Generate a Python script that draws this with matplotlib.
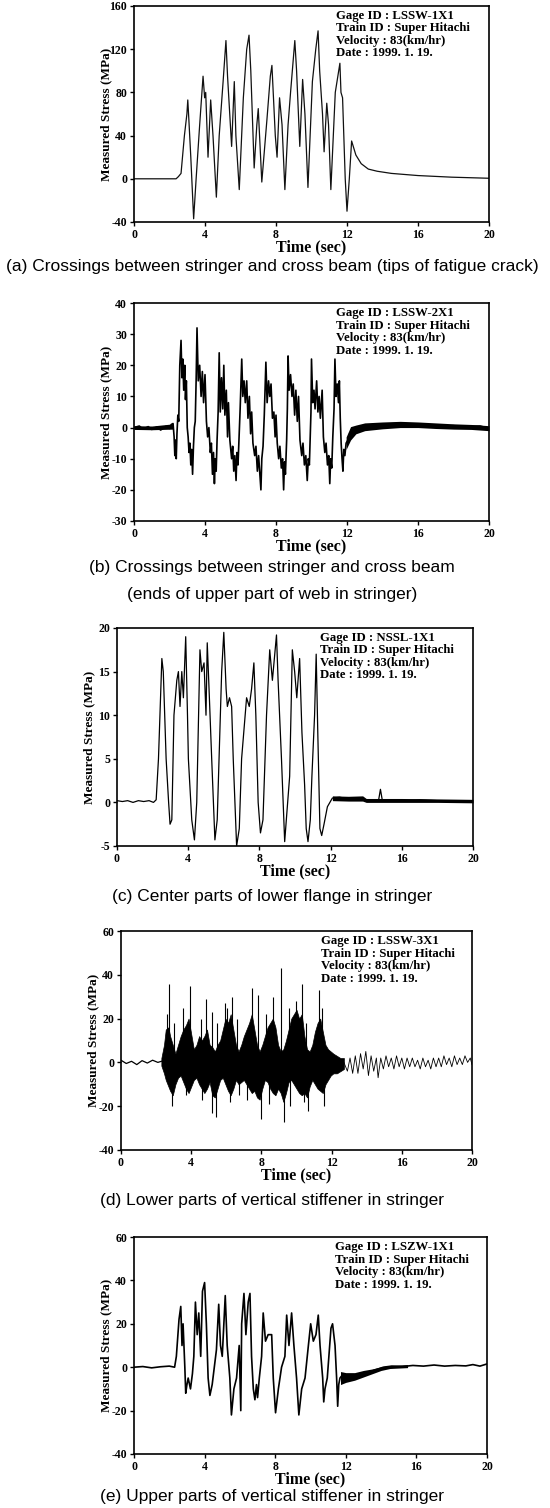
import numpy as np
import matplotlib
matplotlib.use("Agg")
import matplotlib.pyplot as plt

plt.rcParams['font.family'] = ['Liberation Serif', 'DejaVu Serif']
plt.rcParams['font.weight'] = 'bold'
plt.rcParams['axes.unicode_minus'] = False

# ---------------- data ----------------
time_ticks = [0, 4, 8, 12, 16, 20]

# (a) LSSW-1X1
a_time = [0, 1.0, 2.0, 2.37, 2.5, 2.65, 2.84, 2.98, 3.03, 3.09, 3.2, 3.36, 3.5, 3.7, 3.89, 3.98, 4.04,
          4.17, 4.32, 4.45, 4.64, 4.8, 5.02, 5.18, 5.27, 5.5, 5.65, 5.74, 5.93, 6.16, 6.35, 6.48,
          6.58, 6.77, 6.92, 7.0, 7.2, 7.49, 7.68, 7.77, 7.96, 8.06, 8.2, 8.34, 8.5, 8.68, 8.82,
          9.06, 9.16, 9.34, 9.5, 9.63, 9.8, 10.05, 10.24, 10.37, 10.46, 10.62, 10.71, 10.86,
          10.96, 11.09, 11.34, 11.6, 11.66, 11.75, 11.9, 12.0, 12.13, 12.26, 12.5, 12.8, 13.2,
          13.7, 14.5, 16.0, 17.9, 20.0]
a_stress = [0, 0, 0, 0, 2, 5, 40, 60, 73, 55, 20, -37, 0, 50, 95, 75, 80,
            20, 73, 40, -17, 40, 90, 128, 95, 30, 90, 40, -10, 75, 120, 133,
            100, 10, 50, 65, -3, 55, 95, 105, 40, 20, 75, 50, -10, 50, 80,
            128, 100, 30, 92, 60, -8, 90, 120, 137, 100, 60, 25, 70,
            50, -10, 80, 107, 80, 75, 0, -30, 0, 35, 22, 14, 9,
            7, 5, 3, 1.5, 0.5]

# (b) LSSW-2X1
b_time = [0, 0.3, 0.5, 0.8, 1.0, 1.3, 1.5, 1.8, 2.0, 2.1, 2.2, 2.26, 2.3, 2.34, 2.38, 2.42, 2.47,
          2.52, 2.58, 2.65, 2.7, 2.75, 2.8, 2.86, 2.9, 2.95, 3.0, 3.05, 3.1, 3.15, 3.2, 3.25, 3.3,
          3.35, 3.4, 3.45, 3.5,
          3.55, 3.62, 3.7, 3.78, 3.85, 3.92, 4.0, 4.08, 4.15, 4.22, 4.3, 4.36, 4.42, 4.48, 4.53,
          4.58, 4.63, 4.68, 4.74,
          4.8, 4.86, 4.93, 5.0, 5.06, 5.12, 5.2, 5.27, 5.32, 5.4, 5.5, 5.56, 5.62, 5.68, 5.75,
          5.8, 5.86, 5.92, 5.98,
          6.07, 6.13, 6.2, 6.27, 6.35, 6.42, 6.5, 6.57, 6.63, 6.7, 6.8, 6.87, 6.95, 7.02, 7.1,
          7.15, 7.2, 7.27, 7.34,
          7.43, 7.5, 7.58, 7.65, 7.72, 7.8, 7.88, 7.95, 8.0, 8.07, 8.15, 8.22, 8.3, 8.37, 8.43,
          8.48, 8.53, 8.6, 8.64,
          8.68, 8.74, 8.82, 8.9, 8.97, 9.05, 9.12, 9.2, 9.27, 9.35, 9.45, 9.52, 9.6, 9.68, 9.76,
          9.82, 9.88, 9.93, 9.97,
          10.0, 10.07, 10.14, 10.2, 10.29, 10.36, 10.43, 10.5, 10.6, 10.67, 10.75, 10.82, 10.9,
          10.97, 11.03, 11.08, 11.14, 11.2, 11.27,
          11.32, 11.38, 11.45, 11.52, 11.57, 11.62, 11.67, 11.72, 11.77, 11.82, 11.88, 11.95,
          12.05, 12.15, 12.3, 12.5, 12.8, 13.0, 13.5, 14.0, 14.5, 15.0, 15.5, 16.0, 16.5, 17.0,
          17.5, 18.0, 18.5, 19.0, 19.5, 20.0]
b_stress = [0, 0.5, -0.5, 0.3, -0.6, 0.2, -0.8, 0.4, -0.3, 1, 1.3, -3, -9, -4, -10, -2, 4,
            2, 20, 28, 16, 22, 12, 20, 9, 15, 0, -3, -8, -5, -12, -7, -15,
            -6, 0, 2, 15,
            32, 15, 20, 10, 18, 8, 17, 2, -3, 0, -8, -5, -15, -8, -18,
            -10, -14, -4, 5,
            24, 5, 16, 6, 20, 4, 12, -3, 8, -4, -10, -6, -14, -9, -17,
            -8, -12, -3, 6,
            22, 10, 15, 8, 15, 3, 10, -2, 5, -5, -9, -6, -14, -9, -16,
            -20, -10, -6, 4,
            21, 8, 15, 10, 14, 3, 5, -3, 4, -5, -10, -6, -13, -10, -20,
            -11, -15, -4, 6,
            23, 12, 17, 10, 14, 4, 12, 2, 10, -4, -9, -5, -12, -9, -17,
            -10, -12, -3, 5,
            22, 8, 12, 6, 15, 5, 10, 3, 12, -3, -8, -5, -12,
            -9, -18, -10, -13, -3, 6,
            22, 10, 14, 8, 15, 3, -5, -10, -14, -7, -9, -5,
            -4, -2, -1, -0.5, 0, 0.5, 1, 0.8, 1.2, 1.3, 1, 1.2, 0.8, 0.7,
            0.5, 0.6, 0.3, 0.4, 0.5, -0.3]
b_head_time = [0, 1.0, 2.2]
b_head_hi = [0.6, 0.5, 1.2]
b_head_lo = [-0.6, -0.7, -0.5]
b_tail_time = [11.95, 12.2, 12.5, 13, 14, 15, 16, 17, 18, 19, 20]
b_tail_hi = [-3.0, 0.3, 0.8, 1.5, 1.8, 2.0, 1.8, 1.5, 1.2, 1.0, 0.6]
b_tail_lo = [-7.0, -4.0, -2.0, -1.0, -0.4, 0.0, 0.0, -0.3, -0.5, -0.6, -1.0]

# (c) NSSL-1X1
c_time = [0, 0.3, 0.6, 0.9, 1.2, 1.5, 1.8, 2.05, 2.2, 2.33, 2.52, 2.6, 2.76, 2.9, 2.98, 3.08, 3.2,
          3.36, 3.45, 3.54, 3.64, 3.73, 3.86, 3.96, 4.01, 4.2, 4.35, 4.48, 4.66, 4.76, 4.89,
          5.0, 5.07, 5.19, 5.32, 5.5, 5.63, 5.88, 6.0, 6.13, 6.2, 6.32, 6.44, 6.53, 6.72, 6.87,
          7.0, 7.28, 7.43, 7.56, 7.69, 7.8, 7.93, 8.06, 8.2, 8.4, 8.58, 8.73, 8.96, 9.05, 9.24,
          9.42, 9.55, 9.7, 9.85, 9.98, 10.1, 10.26, 10.39, 10.54, 10.63, 10.73, 10.86, 10.95,
          11.1, 11.19, 11.28, 11.4, 11.5, 11.63, 11.82, 12.1, 12.5, 13.0, 14.0, 14.7, 14.8,
          14.9, 16.0, 17.0, 18.0, 19.0, 20.0]
c_stress = [0.2, 0.1, 0.2, 0.0, 0.2, 0.1, 0.2, 0.0, 0.3, 5, 16.5, 15, 5, 0, -2.5, -2, 10,
            14, 15, 11, 15, 12, 19, 10, 5, -2, -4.3, 0, 17.5, 15, 16,
            10, 18.3, 12, 5, -4.3, -2, 15, 19.5, 13, 11, 12, 11, 5, -5, -3,
            5, 12, 11, 13, 16, 10, 0, -3.5, -2, 10, 17.5, 14, 19.2, 14, 5,
            -4.5, -1, 3, 17.5, 15, 12, 16.5, 8, 2, -3, -4.5, -2, 3,
            10, 17, 8, -3, -3.8, -2.5, -0.5, 0.5, 0.6, 0.4, 0.3, 0.3, 1.5,
            0.3, 0.2, 0.3, 0.2, 0.2, 0.1]
c_tail_time = [12.1, 13.0, 13.8, 14.0, 16.0, 18.0, 20.0]
c_tail_hi = [0.75, 0.7, 0.75, 0.45, 0.45, 0.4, 0.35]
c_tail_lo = [0.2, 0.15, 0.15, 0.0, 0.0, 0.0, -0.05]

# (d) LSSW-3X1 : dense burst envelope, spikes and quiet parts
d_env_time = [2.3, 2.45, 2.55, 2.7, 2.8, 2.95, 3.1, 3.25, 3.4, 3.55, 3.7, 3.85, 4.0, 4.15, 4.3,
              4.45, 4.6, 4.75, 4.9, 5.05, 5.2, 5.35, 5.5, 5.65, 5.8, 5.95, 6.1, 6.25, 6.4, 6.55,
              6.7, 6.85, 7.0, 7.15, 7.3, 7.45, 7.6, 7.75, 7.9, 8.05, 8.2, 8.35, 8.5, 8.65, 8.8,
              8.95, 9.1, 9.25, 9.4, 9.55, 9.7, 9.85, 10.0, 10.15, 10.3, 10.45, 10.6, 10.75, 10.9,
              11.05, 11.2, 11.35, 11.5, 11.65, 11.8, 11.95, 12.1, 12.3, 12.5, 12.7]
d_env_hi = [2, 8, 15, 16, 12, 8, 4, 8, 12, 15, 17, 20, 13, 6, 8,
            12, 10, 12, 15, 8, 7, 5, 8, 10, 15, 20, 18, 22, 15, 8,
            5, 8, 12, 15, 18, 22, 15, 8, 5, 8, 12, 16, 18, 20, 16,
            8, 5, 6, 10, 15, 20, 22, 24, 20, 22, 12, 6, 5, 8,
            14, 18, 20, 14, 8, 6, 5, 4, 3, 2, 2]
d_env_lo = [-1.5, -5, -8, -11, -13, -15, -10, -7, -6, -9, -12, -14, -11, -8, -7,
            -10, -12, -14, -12, -9, -15, -16, -12, -8, -7, -10, -13, -15, -12, -8,
            -10, -9, -8, -10, -12, -14, -13, -16, -17, -12, -8, -9, -12, -14, -15,
            -12, -14, -18, -14, -9, -8, -10, -12, -14, -15, -14, -16, -11, -8,
            -10, -12, -13, -14, -10, -8, -6, -5, -5, -4, -3]
d_spike_time = [2.6, 2.75, 3.0, 3.55, 3.95, 4.55, 4.85, 5.2, 5.45, 5.9, 6.05, 6.35, 6.6, 7.45,
                7.8, 8.25, 8.65, 9.1, 9.55, 9.95, 10.3, 10.55, 11.3, 11.45]
d_spike_top = [22, 36, 18, 25, 35, 20, 29, 23, 18, 27, 25, 30, 20, 34,
               31, 22, 30, 43, 25, 28, 36, 18, 33, 25]
d_dip_time = [2.9, 3.7, 4.6, 5.2, 5.4, 6.2, 6.7, 7.2, 7.95, 8.45, 9.3, 9.65, 10.45, 10.65, 11.55]
d_dip_bottom = [-20, -15, -17, -23, -25, -18, -15, -17, -26, -19, -27, -20, -18, -22, -20]
d_head_time = [0, 0.3, 0.6, 0.9, 1.2, 1.5, 1.8, 2.1, 2.3]
d_head_stress = [1, -0.5, 0.5, -1, 0.8, -0.3, 1, 0, 0.5]
d_tail_time = [12.7, 12.9, 13.05, 13.2, 13.35, 13.5, 13.65, 13.8, 13.95, 14.1, 14.25, 14.4,
               14.55, 14.65, 14.8, 14.95, 15.1, 15.25, 15.4, 15.55, 15.7, 15.85, 16.0, 16.15,
               16.3, 16.45, 16.6, 16.75, 16.9, 17.05, 17.2, 17.35, 17.5, 17.65, 17.8, 17.95,
               18.1, 18.25, 18.4, 18.55, 18.7, 18.85, 19.0, 19.15, 19.3, 19.45, 19.6, 19.75,
               19.9, 20.0]
d_tail_stress = [0, -4, 2, -5, 3, -5, 4, -3, 5, -6, 3, -4,
                 2, -7, 2, -3, 3, -2, 2, -3, 3, -2, 2, -3,
                 2, -2, 2, -2, 1, -3, 2, -2, 1, -3, 2, -2,
                 2, -2, 3, -1, 2, -2, 3, -1, 2, -1, 3, 0,
                 2, -1]

# (e) LSZW-1X1
e_time = [0, 0.5, 1.0, 1.5, 2.0, 2.3, 2.4, 2.55, 2.65, 2.72, 2.78, 2.88, 2.93, 3.0, 3.07, 3.2,
          3.31, 3.39, 3.48, 3.58, 3.67, 3.78, 3.88, 4.0, 4.1, 4.2, 4.3, 4.43, 4.52, 4.67, 4.8,
          4.9, 5.0, 5.17, 5.28, 5.43, 5.52, 5.66, 5.81, 5.96, 6.05, 6.1, 6.23, 6.34, 6.47, 6.57,
          6.66, 6.76, 6.85, 6.94, 7.0, 7.1, 7.23, 7.32, 7.45, 7.6, 7.8, 7.89, 8.02, 8.18, 8.36,
          8.55, 8.65, 8.78, 8.93, 9.06, 9.21, 9.34, 9.5, 9.69, 9.88, 10.01, 10.16, 10.31, 10.44,
          10.54, 10.69, 10.75, 10.82, 10.95, 11.16, 11.25, 11.39, 11.48, 11.54, 11.6, 11.67,
          11.86, 12.05, 12.24, 12.62, 13.0, 13.38, 13.76, 14.13, 14.6, 15.2, 15.8, 16.4, 17.0,
          17.6, 18.2, 18.8, 19.2, 19.6, 20.0]
e_stress = [0, 0.3, -0.3, 0.2, 0.5, 0, 5, 22, 28, 10, 20, 0, -12, -8, -5, -10,
            -3, 5, 30, 15, 25, 5, 35, 39, 20, -5, -13, -8, -2, 8, 29,
            10, 5, 33, 10, -5, -22, -10, -5, 10, -20, 20, 34, 15, 30, 34,
            5, -10, -15, -8, -14, -5, 5, 25, 12, 15, 15, -5, -21, -10, 0,
            5, 24, 10, 25, 10, -5, -22, -10, -5, 10, 20, 12, 15, 24,
            10, -5, -16, -10, -5, 18, 20, 10, -5, -18, -8, -5,
            -3, -6, -5, -4, -3, -2, -1, 0, 0.5, 0.3, 0.8, 0.5, 1.0,
            0.5, 0.8, 0.6, 1.2, 0.5, 1.5]
e_tail_time = [11.7, 12.0, 12.5, 13.0, 13.5, 14.0, 14.5, 15.5]
e_tail_hi = [-2.0, -2.5, -2.5, -1.5, -0.8, 0.2, 0.8, 1.2]
e_tail_lo = [-8.0, -7.0, -6.0, -4.5, -3.0, -1.5, -0.6, -0.2]

gage_ids = ['LSSW-1X1', 'LSSW-2X1', 'NSSL-1X1', 'LSSW-3X1', 'LSZW-1X1']
y_limits = [(-40, 160), (-30, 40), (-5, 20), (-40, 60), (-40, 60)]
y_ticks = [[-40, 0, 40, 80, 120, 160],
           [-30, -20, -10, 0, 10, 20, 30, 40],
           [-5, 0, 5, 10, 15, 20],
           [-40, -20, 0, 20, 40, 60],
           [-40, -20, 0, 20, 40, 60]]
captions = [["(a) Crossings between stringer and cross beam (tips of fatigue crack)"],
            ["(b) Crossings between stringer and cross beam",
             "(ends of upper part of web in stringer)"],
            ["(c) Center parts of lower flange in stringer"],
            ["(d) Lower parts of vertical stiffener in stringer"],
            ["(e) Upper parts of vertical stiffener in stringer"]]

# ---------------- layout (pixels of the 550x1508 page) ----------------
W, H = 550., 1508.
boxes = [(134, 489, 6, 222), (134, 489, 303, 521), (117, 473, 628, 846),
         (121, 472, 931, 1150), (134, 487, 1237, 1454)]
caption_y = [[266], [568, 595], [897], [1200], [1497]]

fig = plt.figure(figsize=(5.5, 15.08), dpi=100)
axes = []
for (l, r, t, b) in boxes:
    ax = fig.add_axes([l / W, 1 - b / H, (r - l) / W, (b - t) / H])
    axes.append(ax)

lw = 0.9
axes[0].plot(a_time, a_stress, color='#111111', lw=lw)

axes[1].fill_between(b_head_time, b_head_lo, b_head_hi, color='black', lw=0)
axes[1].fill_between(b_tail_time, b_tail_lo, b_tail_hi, color='black', lw=0)
axes[1].plot(b_time, b_stress, color='black', lw=1.2)

axes[2].fill_between(c_tail_time, c_tail_lo, c_tail_hi, color='black', lw=0)
axes[2].plot(c_time, c_stress, color='black', lw=lw)

axes[3].fill_between(d_env_time, d_env_lo, d_env_hi, color='black', lw=0.5)
axes[3].vlines(d_spike_time, 0, d_spike_top, color='black', lw=0.8)
axes[3].vlines(d_dip_time, d_dip_bottom, 0, color='black', lw=0.8)
axes[3].plot(d_head_time, d_head_stress, color='black', lw=lw)
axes[3].plot(d_tail_time, d_tail_stress, color='black', lw=0.6)

axes[4].fill_between(e_tail_time, e_tail_lo, e_tail_hi, color='black', lw=0)
axes[4].plot(e_time, e_stress, color='black', lw=1.2)

for i, ax in enumerate(axes):
    l, r, t, b = boxes[i]
    ax.set_xlim(0, 20)
    ax.set_ylim(*y_limits[i])
    ax.set_xticks(time_ticks)
    ax.set_yticks(y_ticks[i])
    ax.tick_params(direction='out', length=3, width=1, labelsize=8.5, pad=2)
    for s in ax.spines.values():
        s.set_linewidth(1.2)
    # gage info box
    info = ["Gage ID : " + gage_ids[i], "Train ID : Super Hitachi",
            "Velocity : 83(km/hr)", "Date : 1999. 1. 19."]
    for k, line in enumerate(info):
        ax.text(0.57, 1 - (10 + 12.5 * k) / (b - t), line, transform=ax.transAxes,
                fontsize=9.2, fontweight='bold', va='center', ha='left')
    fig.text(((l + r) / 2) / W, 1 - (b + 25) / H, "Time (sec)", ha='center', va='center',
             fontsize=11.5, fontweight='bold')
    fig.text((l - 28) / W, 1 - ((t + b) / 2) / H, "Measured Stress (MPa)", rotation=90,
             ha='center', va='center', fontsize=9.5, fontweight='bold')
    for line, yc in zip(captions[i], caption_y[i]):
        fig.text(272 / W, 1 - yc / H, line, ha='center', va='center', fontsize=12.5,
                 fontweight='normal', family='Liberation Sans')

fig.savefig("out.png", dpi=100)
